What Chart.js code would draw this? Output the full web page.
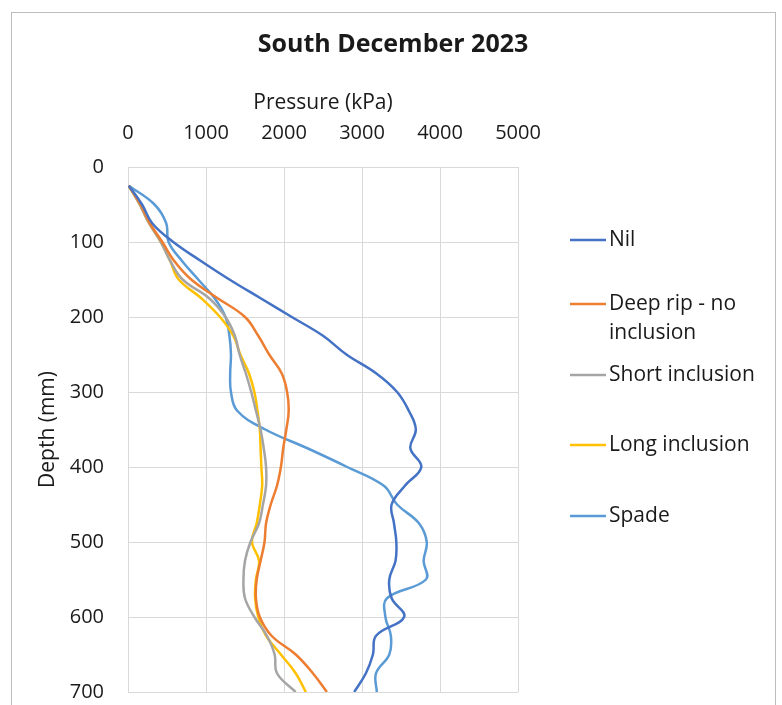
<!DOCTYPE html>
<html>
<head>
<meta charset="utf-8">
<script src="https://cdn.jsdelivr.net/npm/chart.js@4.4.1/dist/chart.umd.min.js"></script>
<style>
  html, body { margin: 0; padding: 0; background: #ffffff; }
  #wrap { position: relative; width: 782px; height: 705px; overflow: hidden; }
  #frame { position: absolute; left: 11px; top: 12px; width: 765px; height: 740px;
           border: 1px solid #bdbdbd; box-sizing: border-box; }
  #c { position: absolute; left: 0; top: 0; }
</style>
</head>
<body>
<div id="wrap">
  <div id="frame"></div>
  <canvas id="c" width="782" height="705"></canvas>
</div>
<script>
// Penetrometer profiles: pressure (kPa) against depth (mm)
const depths = [25, 50, 75, 100, 125, 150, 175, 200, 225, 250, 275, 300, 325, 350,
                375, 400, 425, 450, 475, 500, 525, 550, 575, 600, 625, 650, 675, 700];

const nil = [10, 180, 310, 580, 930, 1300, 1700, 2100, 2500, 2800, 3180, 3450, 3600, 3690,
             3620, 3760, 3550, 3380, 3410, 3440, 3430, 3350, 3380, 3540, 3180, 3140, 3050, 2900];

const deepRip = [10, 160, 280, 440, 590, 810, 1150, 1500, 1670, 1810, 1970, 2040, 2060, 2030,
                 1990, 1960, 1910, 1830, 1770, 1750, 1700, 1650, 1640, 1690, 1840, 2150, 2370, 2550];

const shortInclusion = [10, 150, 270, 420, 540, 700, 1040, 1250, 1370, 1430, 1510, 1580, 1640, 1700,
                        1740, 1770, 1770, 1730, 1680, 1570, 1500, 1480, 1500, 1620, 1780, 1880, 1910, 2150];

const longInclusion = [10, 150, 270, 420, 540, 650, 940, 1180, 1350, 1440, 1550, 1620, 1660, 1690,
                       1700, 1710, 1720, 1690, 1650, 1590, 1680, 1640, 1630, 1670, 1770, 1960, 2150, 2280];

const spade = [10, 340, 490, 520, 690, 900, 1110, 1250, 1300, 1320, 1310, 1320, 1400, 1760,
               2300, 2810, 3280, 3450, 3730, 3830, 3790, 3820, 3320, 3300, 3370, 3350, 3180, 3190];

const seriesNames = ['Nil', 'Deep rip - no inclusion', 'Short inclusion', 'Long inclusion', 'Spade'];
const seriesColors = ['#4472C4', '#ED7D31', '#A5A5A5', '#FFC000', '#5B9BD5'];
const seriesValues = [nil, deepRip, shortInclusion, longInclusion, spade];

const pressureTicks = [0, 1000, 2000, 3000, 4000, 5000];
const depthTicks = [0, 100, 200, 300, 400, 500, 600, 700];

const chartTitle = 'South December 2023';

const FONT = '"Open Sans", Lato, sans-serif';
const TEXT = '#1a1a1a';
const GRID = '#d9d9d9';

const datasets = seriesValues.map((vals, i) => ({
  label: seriesNames[i],
  data: vals.map((p, k) => ({ x: p, y: depths[k] })),
  borderColor: seriesColors[i],
  backgroundColor: seriesColors[i],
  borderWidth: 2.5,
  showLine: true,
  pointRadius: 0,
  pointHoverRadius: 0,
  tension: 0.4,
  fill: false
}));

// Title centred over the whole frame
const frameTitle = {
  id: 'frameTitle',
  afterDraw(chart, args, opts) {
    const ctx = chart.ctx;
    ctx.save();
    ctx.font = 'bold ' + opts.fontSize + 'px ' + FONT;
    ctx.fillStyle = TEXT;
    ctx.textAlign = 'center';
    ctx.textBaseline = 'middle';
    ctx.fillText(opts.text, opts.x, opts.y);
    ctx.restore();
  }
};

// Legend drawn at the right of the plot, one row per series, wrapping long names
const sideLegend = {
  id: 'sideLegend',
  afterDraw(chart, args, opts) {
    const ctx = chart.ctx;
    ctx.save();
    ctx.font = opts.fontSize + 'px ' + FONT;
    ctx.textBaseline = 'middle';
    ctx.textAlign = 'left';
    chart.data.datasets.forEach((ds, i) => {
      const y = opts.rows[i];
      ctx.strokeStyle = ds.borderColor;
      ctx.lineWidth = 2.5;
      ctx.beginPath();
      ctx.moveTo(opts.x, y);
      ctx.lineTo(opts.x + opts.sample, y);
      ctx.stroke();
      const words = ds.label.split(' ');
      const lines = [];
      let cur = '';
      words.forEach(w => {
        const test = cur ? cur + ' ' + w : w;
        if (cur && ctx.measureText(test).width > opts.maxWidth) { lines.push(cur); cur = w; }
        else cur = test;
      });
      lines.push(cur);
      ctx.fillStyle = TEXT;
      lines.forEach((ln, j) => ctx.fillText(ln, opts.x + opts.sample + 3, y + j * opts.lineGap));
    });
    ctx.restore();
  }
};

const plainNumber = v => String(v);

new Chart(document.getElementById('c'), {
  type: 'scatter',
  data: { datasets },
  plugins: [frameTitle, sideLegend],
  options: {
    responsive: false,
    animation: false,
    layout: { padding: { left: 0, right: 264, top: 0, bottom: 13 } },
    plugins: {
      legend: { display: false },
      tooltip: { enabled: false },
      title: { display: false },
      frameTitle: { text: chartTitle, x: 393, y: 45, fontSize: 25 },
      sideLegend: {
        x: 570, sample: 36, maxWidth: 160, fontSize: 21, lineGap: 29,
        rows: [240, 304, 375, 445, 516]
      }
    },
    scales: {
      x: {
        type: 'linear',
        position: 'top',
        min: 0, max: 5000,
        afterBuildTicks: s => { s.ticks = pressureTicks.map(v => ({ value: v })); },
        afterFit: s => { s.height = 167; s.paddingLeft = 0; s.paddingRight = 0; },
        ticks: { color: TEXT, font: { family: FONT, size: 20 }, padding: 22, callback: plainNumber },
        grid: { color: GRID, lineWidth: 1, drawTicks: false },
        border: { display: true, color: GRID },
        title: {
          display: true, text: 'Pressure (kPa)', color: TEXT,
          font: { family: FONT, size: 21 }, padding: { top: 90, bottom: 0 }
        }
      },
      y: {
        type: 'linear',
        reverse: true,
        min: 0, max: 700,
        afterBuildTicks: s => { s.ticks = depthTicks.map(v => ({ value: v })); },
        afterFit: s => { s.width = 128; s.paddingTop = 0; s.paddingBottom = 0; },
        ticks: { color: TEXT, font: { family: FONT, size: 20 }, padding: 24, callback: plainNumber },
        grid: { color: GRID, lineWidth: 1, drawTicks: false },
        border: { display: true, color: GRID },
        title: {
          display: true, text: 'Depth (mm)', color: TEXT,
          font: { family: FONT, size: 21 }, padding: { top: 35, bottom: 0 }
        }
      }
    }
  }
});
</script>
</body>
</html>
